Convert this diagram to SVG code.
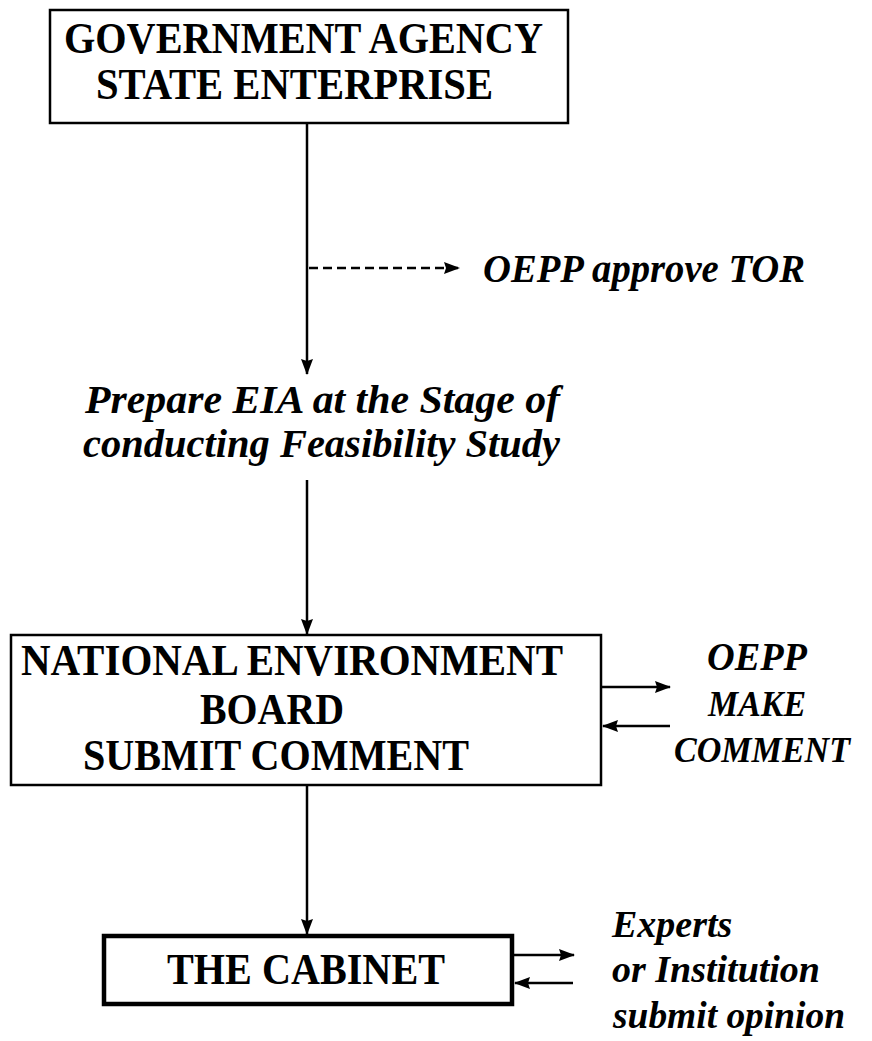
<svg xmlns="http://www.w3.org/2000/svg" width="872" height="1041" viewBox="0 0 872 1041">
<style>
.box{fill:#fff;stroke:#000;stroke-width:2.5}
.thick{fill:#fff;stroke:#000;stroke-width:4.5}
text{font-family:'Liberation Serif','Times New Roman',serif;font-weight:bold;fill:#000}
.t{font-size:44px}
.i{font-style:italic;font-size:41px}
.ln{stroke:#000;stroke-width:2.5;fill:none}
.dash{stroke:#000;stroke-width:2.5;fill:none;stroke-dasharray:9 5}
</style>
<defs>
<marker id="ah" markerWidth="16" markerHeight="12" refX="15" refY="6" orient="auto" markerUnits="userSpaceOnUse">
<path d="M0,0 L16,6 L0,12 L2,6 Z" fill="#000"/>
</marker>
</defs>
<rect width="872" height="1041" fill="#fff"/>
<g id="connectors">
<line class="ln" x1="307" y1="123" x2="307" y2="374" marker-end="url(#ah)"/>
<line class="dash" x1="309" y1="268" x2="459" y2="268" marker-end="url(#ah)"/>
<line class="ln" x1="307" y1="480" x2="307" y2="634" marker-end="url(#ah)"/>
<line class="ln" x1="602" y1="687" x2="670" y2="687" marker-end="url(#ah)"/>
<line class="ln" x1="670" y1="726" x2="603" y2="726" marker-end="url(#ah)"/>
<line class="ln" x1="307" y1="785" x2="307" y2="934" marker-end="url(#ah)"/>
<line class="ln" x1="514" y1="955" x2="574" y2="955" marker-end="url(#ah)"/>
<line class="ln" x1="573" y1="983" x2="515" y2="983" marker-end="url(#ah)"/>
</g>
<g id="node-government">
<rect class="box" x="50" y="10" width="518" height="113"/>
<text class="t" x="64" y="53" textLength="479" lengthAdjust="spacingAndGlyphs">GOVERNMENT AGENCY</text>
<text class="t" x="96" y="99" textLength="397" lengthAdjust="spacingAndGlyphs">STATE ENTERPRISE</text>
</g>
<g id="label-tor">
<text class="i" x="483" y="282" textLength="322" lengthAdjust="spacingAndGlyphs">OEPP approve TOR</text>
</g>
<g id="node-prepare">
<text class="i" x="85" y="413" textLength="475" lengthAdjust="spacingAndGlyphs">Prepare EIA at the Stage of</text>
<text class="i" x="83" y="457" textLength="477" lengthAdjust="spacingAndGlyphs">conducting Feasibility Study</text>
</g>
<g id="node-neb">
<rect class="box" x="11" y="635" width="590" height="150"/>
<text class="t" x="21" y="675" textLength="542" lengthAdjust="spacingAndGlyphs">NATIONAL ENVIRONMENT</text>
<text class="t" x="200" y="724" textLength="144" lengthAdjust="spacingAndGlyphs">BOARD</text>
<text class="t" x="83" y="770" textLength="386" lengthAdjust="spacingAndGlyphs">SUBMIT COMMENT</text>
</g>
<g id="label-oepp">
<text class="i" x="707" y="670" textLength="100" lengthAdjust="spacingAndGlyphs">OEPP</text>
<text class="i" x="708" y="716" textLength="98" lengthAdjust="spacingAndGlyphs" style="font-size:36px">MAKE</text>
<text class="i" x="674" y="762" textLength="176" lengthAdjust="spacingAndGlyphs" style="font-size:36px">COMMENT</text>
</g>
<g id="node-cabinet">
<rect class="thick" x="104" y="936" width="408" height="68"/>
<text class="t" x="167" y="984" textLength="278" lengthAdjust="spacingAndGlyphs">THE CABINET</text>
</g>
<g id="label-experts">
<text class="i" x="612" y="937" style="font-size:38px">Experts</text>
<text class="i" x="612" y="982" textLength="208" lengthAdjust="spacingAndGlyphs" style="font-size:38px">or Institution</text>
<text class="i" x="613" y="1028" textLength="232" lengthAdjust="spacingAndGlyphs" style="font-size:38px">submit opinion</text>
</g>
</svg>
